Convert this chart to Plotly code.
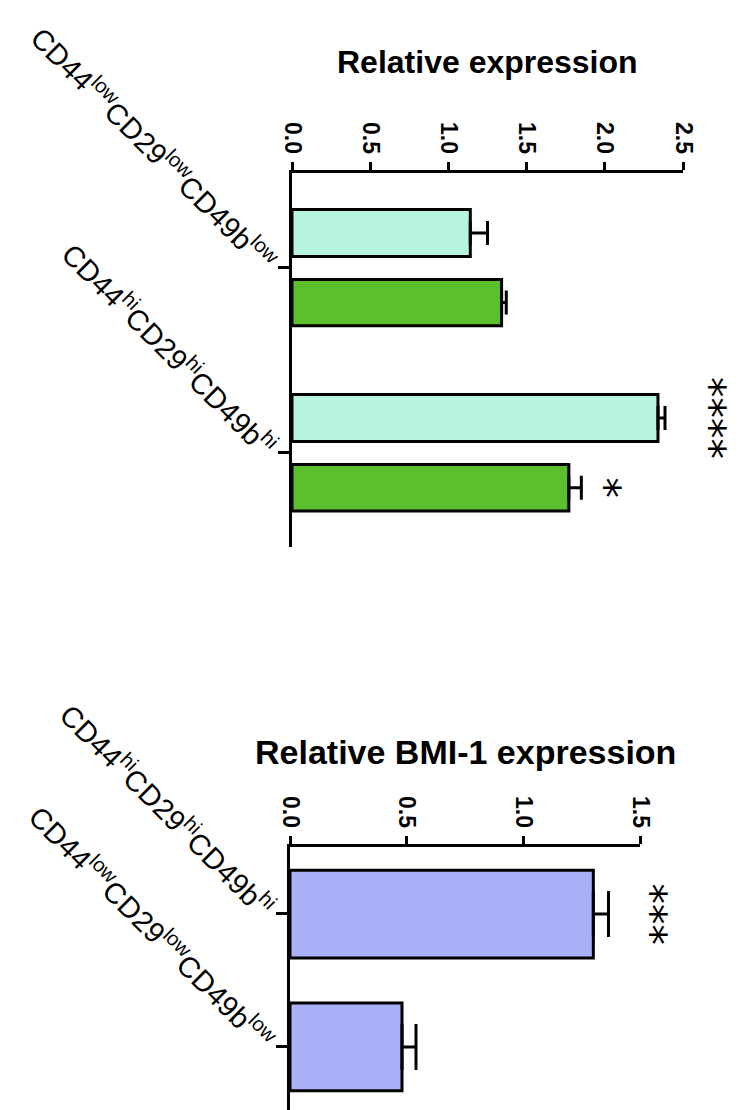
import plotly.graph_objects as go

# ---------------- data ----------------
top_categories = [
    "CD44<sup>low</sup>CD29<sup>low</sup>CD49b<sup>low</sup>",
    "CD44<sup>hi</sup>CD29<sup>hi</sup>CD49b<sup>hi</sup>",
]
top_series_a = [1.14, 2.34]      # light cyan bars
top_err_a = [0.11, 0.045]
top_sig_a = ["", "****"]
top_series_b = [1.34, 1.77]      # green bars
top_err_b = [0.03, 0.08]
top_sig_b = ["", "*"]
top_title = "Relative expression"
top_ticks = [0.0, 0.5, 1.0, 1.5, 2.0, 2.5]

bot_categories = [
    "CD44<sup>hi</sup>CD29<sup>hi</sup>CD49b<sup>hi</sup>",
    "CD44<sup>low</sup>CD29<sup>low</sup>CD49b<sup>low</sup>",
]
bot_values = [1.30, 0.48]
bot_err = [0.065, 0.06]
bot_sig = ["***", ""]
bot_title = "Relative BMI-1 expression"
bot_ticks = [0.0, 0.5, 1.0, 1.5]

# ---------------- style ----------------
W, H = 740, 1110
FONT = "Liberation Sans, Arial, sans-serif"
CYAN = "#b6f4dd"
GREEN = "#5cc02e"
PURPLE = "#aab0f8"
LW = 3

fig = go.Figure()

# top chart bars
A_OFF, A_W = -0.3135, 0.254
B_OFF, B_W = 0.065, 0.25
fig.add_trace(go.Bar(
    y=top_categories, x=top_series_a, orientation="h",
    offset=A_OFF, width=A_W,
    marker=dict(color=CYAN, line=dict(color="black", width=LW)),
    error_x=dict(type="data", symmetric=False, array=top_err_a,
                 arrayminus=[0] * len(top_err_a), color="black",
                 thickness=LW, width=12),
    xaxis="x", yaxis="y", showlegend=False,
))
fig.add_trace(go.Bar(
    y=top_categories, x=top_series_b, orientation="h",
    offset=B_OFF, width=B_W,
    marker=dict(color=GREEN, line=dict(color="black", width=LW)),
    error_x=dict(type="data", symmetric=False, array=top_err_b,
                 arrayminus=[0] * len(top_err_b), color="black",
                 thickness=LW, width=12),
    xaxis="x", yaxis="y", showlegend=False,
))

# bottom chart bars
C_OFF, C_W = -0.325, 0.66
fig.add_trace(go.Bar(
    y=bot_categories, x=bot_values, orientation="h",
    offset=C_OFF, width=C_W,
    marker=dict(color=PURPLE, line=dict(color="black", width=LW)),
    error_x=dict(type="data", symmetric=False, array=bot_err,
                 arrayminus=[0] * len(bot_err), color="black",
                 thickness=LW, width=23),
    xaxis="x2", yaxis="y2", showlegend=False,
))

annotations = []
STAR_FONT = dict(family="DejaVu Sans", size=41, color="black")


def add_sig(labels, vals, errs, off, wid, xref, yref, shift):
    for i, (s, v, e) in enumerate(zip(labels, vals, errs)):
        if not s:
            continue
        annotations.append(dict(
            x=v + e, y=i + off + wid / 2, xref=xref, yref=yref,
            text=s, showarrow=False, textangle=90, font=STAR_FONT,
            xanchor="center", yanchor="middle", xshift=shift,
        ))


add_sig(top_sig_a, top_series_a, top_err_a, A_OFF, A_W, "x", "y", 45)
add_sig(top_sig_b, top_series_b, top_err_b, B_OFF, B_W, "x", "y", 24)
add_sig(bot_sig, bot_values, bot_err, C_OFF, C_W, "x2", "y2", 42)

annotations.append(dict(text="<b>" + top_title + "</b>", x=0.5, y=1 - 62 / H,
                        xref="x domain", yref="paper", showarrow=False,
                        font=dict(family=FONT, size=32, color="black"),
                        xanchor="center", yanchor="middle"))
annotations.append(dict(text="<b>" + bot_title + "</b>", x=0.5, y=1 - 752 / H,
                        xref="x2 domain", yref="paper", showarrow=False,
                        font=dict(family=FONT, size=34, color="black"),
                        xanchor="center", yanchor="middle"))

xcommon = dict(side="top", showline=True, linewidth=LW, linecolor="black",
               ticks="outside", ticklen=8, tickwidth=LW, tickcolor="black",
               tickangle=90, tickformat=".1f", showgrid=False, zeroline=False,
               automargin=False,
               tickfont=dict(family=FONT, size=23, color="black", weight="bold"))
ycommon = dict(type="category", showline=True, linewidth=LW, linecolor="black",
               ticks="outside", ticklen=11, tickwidth=LW, tickcolor="black",
               tickangle=45, showgrid=False, zeroline=False, automargin=False,
               tickfont=dict(family=FONT, size=29, color="black"))

fig.update_layout(
    width=W, height=H, autosize=False,
    margin=dict(l=0, r=0, t=0, b=0, pad=0),
    paper_bgcolor="white", plot_bgcolor="white",
    barmode="overlay",
    xaxis=dict(domain=[292 / W, 683 / W], range=[0, 2.5], tickvals=top_ticks,
               anchor="y", **xcommon),
    yaxis=dict(domain=[1 - 547 / H, 1 - 173 / H], range=[1.51, -0.51],
               categoryorder="array", categoryarray=top_categories,
               anchor="x", **ycommon),
    xaxis2=dict(domain=[290 / W, 640 / W], range=[0, 1.5], tickvals=bot_ticks,
                anchor="y2", **xcommon),
    yaxis2=dict(domain=[0, 1 - 847 / H], range=[1.48, -0.5],
                categoryorder="array", categoryarray=bot_categories,
                anchor="x2", **ycommon),
    annotations=annotations,
)

fig.write_html("out.html",
               config={"displayModeBar": False},
               post_script="document.body.style.margin='0';"
                           "document.body.style.padding='0';")
